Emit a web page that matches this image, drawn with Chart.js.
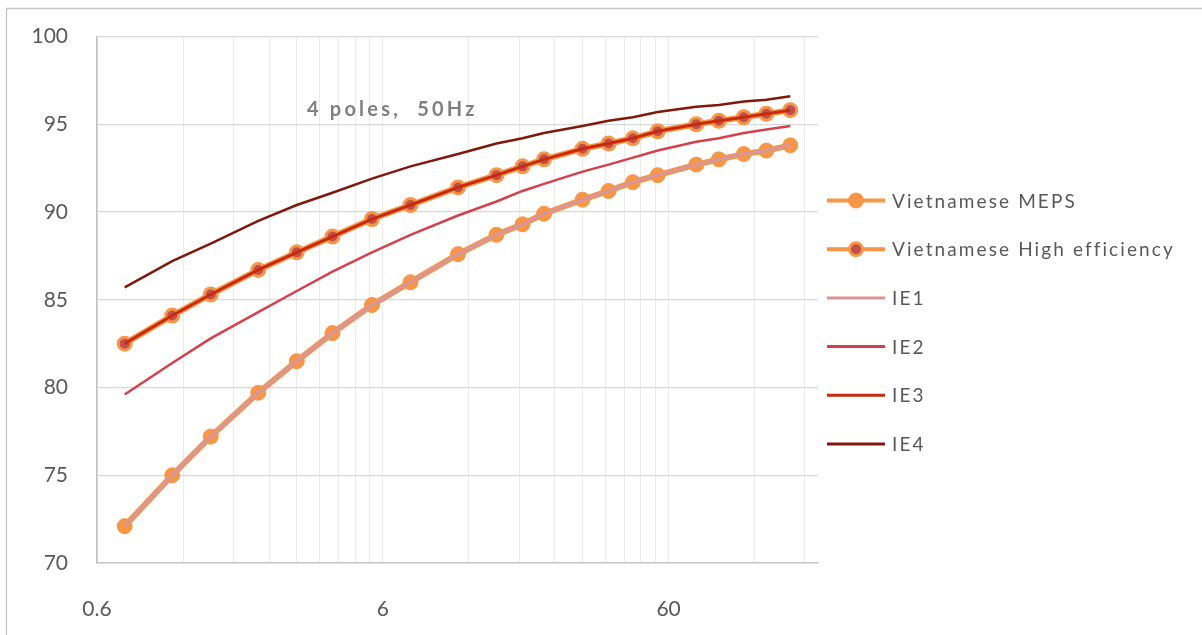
<!DOCTYPE html>
<html>
<head>
<meta charset="utf-8">
<title>Motor efficiency classes, 4 poles 50Hz</title>
<script src="https://cdn.jsdelivr.net/npm/chart.js@4/dist/chart.umd.min.js"></script>
<style>
  html, body { margin: 0; padding: 0; background: #ffffff; }
  canvas { display: block; }
</style>
</head>
<body>
<canvas id="chart" width="1202" height="635"></canvas>
<script>
// Rated output power (kW)
const powerKW = [0.75, 1.1, 1.5, 2.2, 3, 4, 5.5, 7.5, 11, 15, 18.5, 22, 30, 37, 45, 55, 75, 90, 110, 132, 160];

// Nominal efficiency (%)
const vnMEPS = [72.1, 75.0, 77.2, 79.7, 81.5, 83.1, 84.7, 86.0, 87.6, 88.7, 89.3, 89.9, 90.7, 91.2, 91.7, 92.1, 92.7, 93.0, 93.3, 93.5, 93.8];
const vnHigh = [82.5, 84.1, 85.3, 86.7, 87.7, 88.6, 89.6, 90.4, 91.4, 92.1, 92.6, 93.0, 93.6, 93.9, 94.2, 94.6, 95.0, 95.2, 95.4, 95.6, 95.8];
const ie1 = [72.1, 75.0, 77.2, 79.7, 81.5, 83.1, 84.7, 86.0, 87.6, 88.7, 89.3, 89.9, 90.7, 91.2, 91.7, 92.1, 92.7, 93.0, 93.3, 93.5, 93.8];
const ie2 = [79.6, 81.4, 82.8, 84.3, 85.5, 86.6, 87.7, 88.7, 89.8, 90.6, 91.2, 91.6, 92.3, 92.7, 93.1, 93.5, 94.0, 94.2, 94.5, 94.7, 94.9];
const ie3 = [82.5, 84.1, 85.3, 86.7, 87.7, 88.6, 89.6, 90.4, 91.4, 92.1, 92.6, 93.0, 93.6, 93.9, 94.2, 94.6, 95.0, 95.2, 95.4, 95.6, 95.8];
const ie4 = [85.7, 87.2, 88.2, 89.5, 90.4, 91.1, 91.9, 92.6, 93.3, 93.9, 94.2, 94.5, 94.9, 95.2, 95.4, 95.7, 96.0, 96.1, 96.3, 96.4, 96.6];

const seriesNames = ['Vietnamese MEPS', 'Vietnamese High efficiency', 'IE1', 'IE2', 'IE3', 'IE4'];
const xTickLabels = [0.6, 6, 60];
const yTickLabels = [70, 75, 80, 85, 90, 95, 100];
const xMax = 200;
const chartNote = '4 poles,  50Hz';

const TEXT = '#595959';

function pts(values) {
  return powerKW.map((x, i) => ({ x: x, y: values[i] }));
}

// Left/top frame of the chart area
const framePlugin = {
  id: 'frame',
  beforeDraw(chart) {
    const ctx = chart.ctx;
    ctx.save();
    ctx.strokeStyle = '#c6c6c6';
    ctx.lineWidth = 1.3;
    ctx.beginPath();
    ctx.moveTo(6.5, chart.height);
    ctx.lineTo(6.5, 8.5);
    ctx.lineTo(chart.width, 8.5);
    ctx.stroke();
    ctx.restore();
  }
};

// Caption inside the plot
const notePlugin = {
  id: 'note',
  afterDatasetsDraw(chart) {
    const ctx = chart.ctx;
    ctx.save();
    ctx.font = 'bold 20px Lato';
    ctx.letterSpacing = '3.2px';
    ctx.fillStyle = '#808080';
    ctx.textAlign = 'left';
    ctx.textBaseline = 'middle';
    ctx.fillText(chartNote, 307, 110);
    ctx.restore();
  }
};

// Legend on the right: line sample, optional marker, label
const sideLegend = {
  id: 'sideLegend',
  afterDraw(chart, args, opts) {
    const ctx = chart.ctx;
    ctx.save();
    chart.data.datasets.forEach((ds, i) => {
      const y = opts.top + i * opts.step;
      ctx.beginPath();
      ctx.moveTo(opts.x0, y);
      ctx.lineTo(opts.x1, y);
      ctx.strokeStyle = ds.borderColor;
      ctx.lineWidth = ds.pointRadius > 0 ? 4 : 3;
      ctx.lineCap = 'butt';
      ctx.stroke();
      if (ds.pointRadius > 0) {
        const cx = (opts.x0 + opts.x1) / 2;
        ctx.beginPath();
        ctx.arc(cx, y, ds.pointRadius, 0, Math.PI * 2);
        ctx.fillStyle = ds.pointBackgroundColor;
        ctx.fill();
        ctx.lineWidth = ds.pointBorderWidth;
        ctx.strokeStyle = ds.pointBorderColor;
        ctx.stroke();
      }
      ctx.font = '19px Lato';
      ctx.letterSpacing = '2.1px';
      ctx.fillStyle = TEXT;
      ctx.textAlign = 'left';
      ctx.textBaseline = 'middle';
      ctx.fillText(ds.label, opts.textX, y + 1);
    });
    ctx.restore();
  }
};

new Chart(document.getElementById('chart'), {
  type: 'line',
  data: {
    datasets: [
      {
        label: seriesNames[0], data: pts(vnMEPS), order: 6,
        borderColor: '#F79646', borderWidth: 6,
        pointRadius: 7.5, pointBackgroundColor: '#F79646', pointBorderColor: '#F79646', pointBorderWidth: 1
      },
      {
        label: seriesNames[1], data: pts(vnHigh), order: 5,
        borderColor: '#F79646', borderWidth: 6,
        pointRadius: 6.5, pointBackgroundColor: '#C0504D', pointBorderColor: '#F79646', pointBorderWidth: 3
      },
      {
        label: seriesNames[2], data: pts(ie1), order: 4,
        borderColor: '#DA9694', borderWidth: 3.5, pointRadius: 0
      },
      {
        label: seriesNames[3], data: pts(ie2), order: 3,
        borderColor: '#D6404B', borderWidth: 2.5, pointRadius: 0
      },
      {
        label: seriesNames[4], data: pts(ie3), order: 2,
        borderColor: '#C82A0C', borderWidth: 3, pointRadius: 0
      },
      {
        label: seriesNames[5], data: pts(ie4), order: 1,
        borderColor: '#80190C', borderWidth: 2.5, pointRadius: 0
      }
    ]
  },
  options: {
    responsive: false,
    devicePixelRatio: 1,
    animation: false,
    events: [],
    layout: { padding: { left: 0, top: 36.5, right: 384, bottom: 0 } },
    elements: { line: { tension: 0, fill: false } },
    plugins: {
      legend: { display: false },
      tooltip: { enabled: false },
      sideLegend: { x0: 827, x1: 885, textX: 892, top: 200.5, step: 48.7 }
    },
    scales: {
      x: {
        type: 'logarithmic',
        min: xTickLabels[0],
        max: xMax,
        afterBuildTicks(scale) {
          const ticks = [];
          xTickLabels.forEach(m => {
            for (let k = 1; k <= 9; k++) {
              const v = m * k;
              if (v < scale.max) ticks.push({ value: v });
            }
          });
          scale.ticks = ticks;
        },
        afterFit(scale) { scale.height = 72; },
        grid: { color: '#ebebeb', lineWidth: 1, drawTicks: false },
        border: { color: '#c8c8c8', width: 1.5 },
        ticks: {
          autoSkip: false, maxRotation: 0, padding: 34,
          color: TEXT, font: { family: 'Lato', size: 21 },
          callback: (v) => xTickLabels.includes(v) ? String(v) : ''
        }
      },
      y: {
        type: 'linear',
        min: yTickLabels[0],
        max: yTickLabels[yTickLabels.length - 1],
        afterBuildTicks(scale) {
          scale.ticks = yTickLabels.map(v => ({ value: v }));
        },
        afterFit(scale) {
          scale.width = 97;
          scale.paddingTop = 12;
          scale.paddingBottom = 12;
        },
        grid: { color: '#d9d9d9', lineWidth: 1.3, drawTicks: false },
        border: { color: '#c0c0c0', width: 1.5 },
        ticks: {
          padding: 29,
          color: TEXT, font: { family: 'Lato', size: 21 }
        }
      }
    }
  },
  plugins: [framePlugin, notePlugin, sideLegend]
});
</script>
</body>
</html>
